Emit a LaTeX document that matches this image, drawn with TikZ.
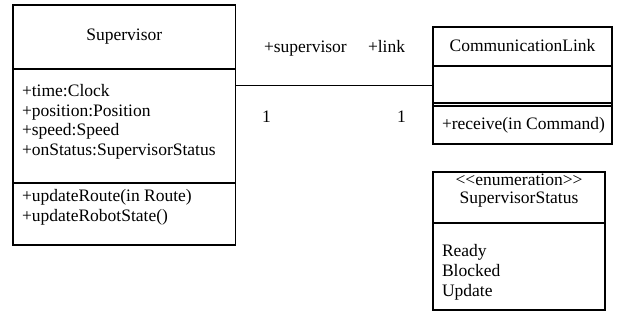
\documentclass[tikz,border=0pt]{standalone}
\usepackage{fontspec}
\setmainfont{Liberation Serif}
\begin{document}
\begin{tikzpicture}[x=1pt,y=-1pt,
  box/.style={draw, line width=1.1pt, inner sep=0pt, outer sep=0pt, rectangle},
  txt/.style={inner sep=0pt, outer sep=0pt, font=\fontsize{17.5}{20}\selectfont},
  sep/.style={line width=1.1pt}]
\useasboundingbox (0,0) rectangle (621,320);
% boxes
\node[box, minimum width=222.5pt, minimum height=240pt] (sup) at (124.25,125) {};
\node[box, minimum width=179pt, minimum height=117pt] (link) at (522.5,85.5) {};
\node[box, minimum width=172pt, minimum height=138pt] (enum) at (519,241) {};
% compartments
\draw[sep] (sup.west |- 0,69) -- (sup.east |- 0,69);
\draw[sep] (sup.west |- 0,183) -- (sup.east |- 0,183);
\draw[sep] (link.west |- 0,66) -- (link.east |- 0,66);
\draw[sep] (link.west |- 0,103) -- (link.east |- 0,103);
\draw[sep] (link.west |- 0,106) -- (link.east |- 0,106);
\draw[sep] (enum.west |- 0,223) -- (enum.east |- 0,223);
% association
\draw[sep] (link.west) -- (link.west -| sup.east);
% texts
\node[txt, anchor=base] (supname) at (124.25,41) {Supervisor};
\node[txt, anchor=base west] (a1) at (22,97) {+time:Clock};
\node[txt, anchor=base west] (a2) at (22,116.5) {+position:Position};
\node[txt, anchor=base west] (a3) at (22,136) {+speed:Speed};
\node[txt, anchor=base west] (a4) at (22,155.5) {+onStatus:SupervisorStatus};
\node[txt, anchor=base west] (m1) at (22,202) {+updateRoute(in Route)};
\node[txt, anchor=base west] (m2) at (22,221.5) {+updateRobotState()};
\node[txt, anchor=base west] (r1) at (264,53) {+supervisor};
\node[txt, anchor=base west] (r2) at (368,53) {+link};
\node[txt, anchor=base west] (n1) at (262,123) {1};
\node[txt, anchor=base west] (n2) at (397,123) {1};
\node[txt, anchor=base] (linkname) at (522.5,52) {CommunicationLink};
\node[txt, anchor=base west] (lm1) at (442,130) {+receive(in Command)};
\node[txt, anchor=base] (st) at (519,186) {<{}<enumeration>{}>};
\node[txt, anchor=base] (enumname) at (519,204) {SupervisorStatus};
\node[txt, anchor=base west] (e1) at (442,257) {Ready};
\node[txt, anchor=base west] (e2) at (442,277) {Blocked};
\node[txt, anchor=base west] (e3) at (442,297) {Update};
\end{tikzpicture}
\end{document}
